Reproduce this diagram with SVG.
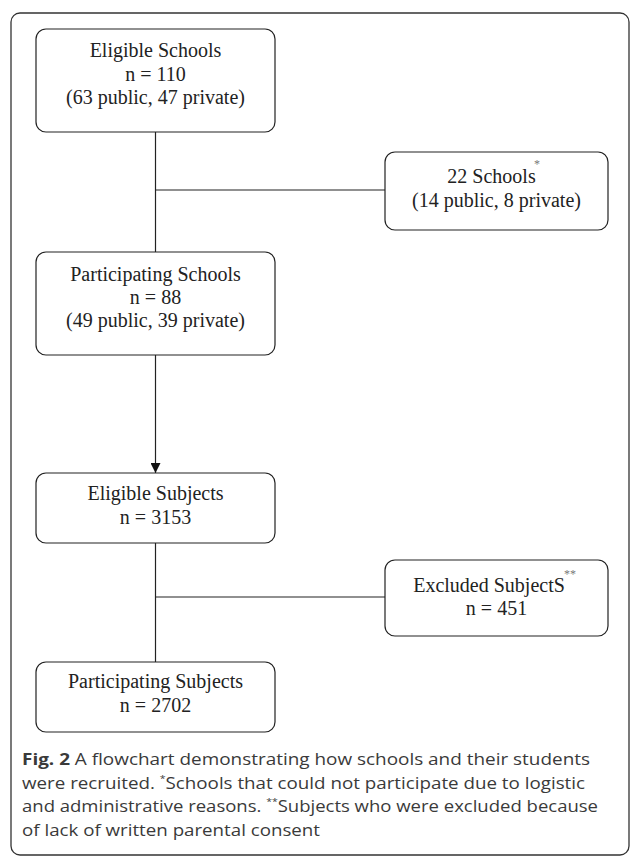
<svg xmlns="http://www.w3.org/2000/svg" width="630" height="856" viewBox="0 0 630 856">
<style>
.frame{fill:none;stroke:#333;stroke-width:1.3}
.box{fill:#fff;stroke:#222;stroke-width:1.2}
.t{font-family:"Liberation Serif","Times New Roman",serif;font-size:20px;fill:#222;text-anchor:middle}
.sup{font-family:"Liberation Serif","Times New Roman",serif;font-size:12px;fill:#777}
.cap{font-family:"Open Sans","Noto Sans",sans-serif;font-size:16px;fill:#3a3a3a}
.capsup{font-size:9px}
.line{fill:none;stroke:#222;stroke-width:1.2}
</style>
<defs>
<marker id="arr" viewBox="0 0 10 10" refX="10" refY="5" markerWidth="10" markerHeight="10" markerUnits="userSpaceOnUse" orient="auto">
<path d="M0,0 L10,5 L0,10 Z" fill="#111"/>
</marker>
</defs>
<rect class="frame" x="11" y="13" width="618" height="842" rx="9"/>
<g id="connectors">
<path class="line" d="M155.5,132 V252"/>
<path class="line" d="M155.5,190 H385"/>
<path class="line" d="M155.5,355 V473" marker-end="url(#arr)"/>
<path class="line" d="M155.5,543 V662"/>
<path class="line" d="M155.5,597 H385"/>
</g>
<g id="eligible-schools">
<rect class="box" x="36" y="29" width="239" height="103" rx="10"/>
<text class="t" x="155.5" y="57">Eligible Schools</text>
<text class="t" x="155.5" y="81">n = 110</text>
<text class="t" x="155.5" y="104">(63 public, 47 private)</text>
</g>
<g id="excluded-schools">
<rect class="box" x="385" y="152" width="223" height="78" rx="10"/>
<text class="t" x="491.5" y="183">22 Schools</text>
<text class="sup" x="534" y="168">*</text>
<text class="t" x="496.5" y="207">(14 public, 8 private)</text>
</g>
<g id="participating-schools">
<rect class="box" x="36" y="252" width="239" height="103" rx="10"/>
<text class="t" x="155.5" y="281">Participating Schools</text>
<text class="t" x="155.5" y="304">n = 88</text>
<text class="t" x="155.5" y="327">(49 public, 39 private)</text>
</g>
<g id="eligible-subjects">
<rect class="box" x="36" y="473" width="239" height="70" rx="10"/>
<text class="t" x="155.5" y="500">Eligible Subjects</text>
<text class="t" x="155.5" y="524">n = 3153</text>
</g>
<g id="excluded-subjects">
<rect class="box" x="385" y="560" width="223" height="76" rx="10"/>
<text class="t" x="489" y="592">Excluded SubjectS</text>
<text class="sup" x="564" y="578">**</text>
<text class="t" x="496.5" y="615">n = 451</text>
</g>
<g id="participating-subjects">
<rect class="box" x="36" y="662" width="239" height="70" rx="10"/>
<text class="t" x="155.5" y="688">Participating Subjects</text>
<text class="t" x="155.5" y="712">n = 2702</text>
</g>
<g id="caption">
<text class="cap" x="22" y="765" textLength="568" lengthAdjust="spacingAndGlyphs"><tspan font-weight="bold">Fig. 2</tspan> A flowchart demonstrating how schools and their students</text>
<text class="cap" x="22" y="789" textLength="563" lengthAdjust="spacingAndGlyphs">were recruited. <tspan class="capsup" dy="-7">*</tspan><tspan dy="7">Schools that could not participate due to logistic</tspan></text>
<text class="cap" x="22" y="812" textLength="576" lengthAdjust="spacingAndGlyphs">and administrative reasons. <tspan class="capsup" dy="-7">**</tspan><tspan dy="7">Subjects who were excluded because</tspan></text>
<text class="cap" x="22" y="836" textLength="298" lengthAdjust="spacingAndGlyphs">of lack of written parental consent</text>
</g>
</svg>
